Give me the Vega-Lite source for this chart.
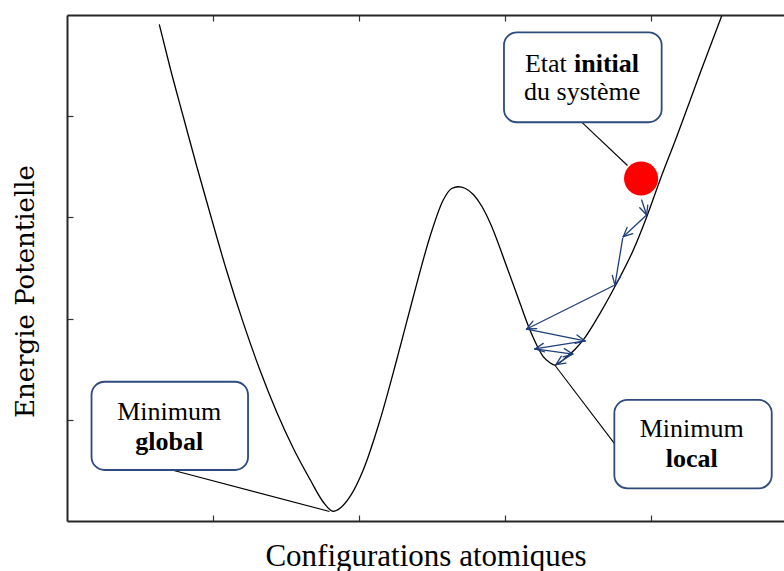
{
  "$schema": "https://vega.github.io/schema/vega-lite/v6.json",
  "width": 717,
  "height": 506,
  "autosize": {"type": "none"},
  "padding": {"left": 67, "top": 15, "right": 0, "bottom": 50},
  "background": "white",
  "config": {"view": {"stroke": null}},
  "resolve": {"axis": {"x": "independent"}},
  "layer": [
    {
      "data": {"values": [
        {"x": 0.632, "y": 4.908}, {"x": 0.705, "y": 4.486}, {"x": 0.797, "y": 3.992}, {"x": 0.888, "y": 3.508},
        {"x": 0.979, "y": 3.043}, {"x": 1.094, "y": 2.470}, {"x": 1.208, "y": 1.955}, {"x": 1.322, "y": 1.489},
        {"x": 1.436, "y": 1.077}, {"x": 1.550, "y": 0.719}, {"x": 1.664, "y": 0.412}, {"x": 1.755, "y": 0.188},
        {"x": 1.824, "y": 0.096}, {"x": 1.870, "y": 0.126}, {"x": 1.938, "y": 0.240}, {"x": 2.029, "y": 0.504},
        {"x": 2.144, "y": 0.998}, {"x": 2.258, "y": 1.591}, {"x": 2.372, "y": 2.216}, {"x": 2.486, "y": 2.809},
        {"x": 2.577, "y": 3.172}, {"x": 2.635, "y": 3.286}, {"x": 2.680, "y": 3.303}, {"x": 2.726, "y": 3.288},
        {"x": 2.783, "y": 3.226}, {"x": 2.840, "y": 3.113}, {"x": 2.897, "y": 2.950}, {"x": 3.012, "y": 2.513},
        {"x": 3.103, "y": 2.151}, {"x": 3.171, "y": 1.887}, {"x": 3.217, "y": 1.739}, {"x": 3.262, "y": 1.624},
        {"x": 3.308, "y": 1.564}, {"x": 3.342, "y": 1.541}, {"x": 3.423, "y": 1.624}, {"x": 3.479, "y": 1.695},
        {"x": 3.536, "y": 1.789}, {"x": 3.651, "y": 2.052}, {"x": 3.765, "y": 2.349}, {"x": 3.879, "y": 2.678},
        {"x": 3.971, "y": 3.007}, {"x": 4.062, "y": 3.370}, {"x": 4.176, "y": 3.797}, {"x": 4.336, "y": 4.424},
        {"x": 4.484, "y": 4.990}
      ]},
      "mark": {"type": "line", "color": "black", "strokeWidth": 1.3, "interpolate": "monotone", "clip": true},
      "encoding": {
        "x": {"field": "x", "type": "quantitative",
          "scale": {"domain": [0, 4.911], "nice": false, "zero": false},
          "axis": {"orient": "bottom", "values": [1, 2, 3, 4], "tickSize": -6, "tickColor": "#333", "tickWidth": 1.2,
            "labels": false, "grid": false, "domainColor": "#262626", "domainWidth": 2,
            "title": "Configurations atomiques", "titleFont": "Liberation Serif", "titleFontSize": 31,
            "titleFontWeight": "normal", "titleColor": "black", "titleBaseline": "alphabetic", "titleY": 44}},
        "y": {"field": "y", "type": "quantitative",
          "scale": {"domain": [0, 5], "nice": false, "zero": false},
          "axis": {"values": [1, 2, 3, 4], "tickSize": -6, "tickColor": "#333", "tickWidth": 1.2,
            "labels": false, "grid": false, "domainColor": "#262626", "domainWidth": 2,
            "title": "Energie Potentielle", "titleFont": "DejaVu Serif", "titleFontSize": 26,
            "titleFontWeight": "normal", "titleColor": "black", "titleBaseline": "alphabetic",
            "titleX": -34, "titleY": 276}}
      }
    },
    {
      "data": {"values": [
        {"x": 3.527, "y": 3.938, "x2": 3.839, "y2": 3.513},
        {"x": 0.719, "y": 0.504, "x2": 1.798, "y2": 0.094},
        {"x": 3.342, "y": 1.539, "x2": 3.749, "y2": 0.767}
      ]},
      "mark": {"type": "rule", "color": "black", "strokeWidth": 1.1},
      "encoding": {
        "x": {"field": "x", "type": "quantitative",
          "axis": {"orient": "top", "values": [1, 2, 3, 4], "tickSize": -6, "tickColor": "#333", "tickWidth": 1.2,
            "labels": false, "grid": false, "domainColor": "#262626", "domainWidth": 2, "title": null}},
        "y": {"field": "y", "type": "quantitative"},
        "x2": {"field": "x2"},
        "y2": {"field": "y2"}
      }
    },
    {
      "data": {"values": [
        {"x": 2.993, "x2": 4.073, "y": 4.829, "y2": 3.940},
        {"x": 0.168, "x2": 1.240, "y": 1.376, "y2": 0.504},
        {"x": 3.749, "x2": 4.827, "y": 1.196, "y2": 0.323}
      ]},
      "mark": {"type": "rect", "fill": "white", "stroke": "#2d4b7e", "strokeWidth": 1.8, "cornerRadius": 13},
      "encoding": {
        "x": {"field": "x", "type": "quantitative", "axis": null},
        "y": {"field": "y", "type": "quantitative"},
        "x2": {"field": "x2"},
        "y2": {"field": "y2"}
      }
    },
    {
      "data": {"values": [
        {"x": 3.936, "y": 3.172, "x2": 3.970, "y2": 3.024},
        {"x": 3.970, "y": 3.024, "x2": 3.978, "y2": 3.122},
        {"x": 3.970, "y": 3.024, "x2": 3.923, "y2": 3.095},
        {"x": 3.970, "y": 3.024, "x2": 3.810, "y2": 2.809},
        {"x": 3.810, "y": 2.809, "x2": 3.875, "y2": 2.840},
        {"x": 3.810, "y": 2.809, "x2": 3.836, "y2": 2.901},
        {"x": 3.806, "y": 2.793, "x2": 3.753, "y2": 2.332},
        {"x": 3.753, "y": 2.332, "x2": 3.792, "y2": 2.414},
        {"x": 3.753, "y": 2.332, "x2": 3.735, "y2": 2.427},
        {"x": 3.753, "y": 2.332, "x2": 3.149, "y2": 1.897},
        {"x": 3.149, "y": 1.897, "x2": 3.217, "y2": 1.900},
        {"x": 3.149, "y": 1.897, "x2": 3.191, "y2": 1.975},
        {"x": 3.149, "y": 1.897, "x2": 3.548, "y2": 1.779},
        {"x": 3.548, "y": 1.779, "x2": 3.493, "y2": 1.838},
        {"x": 3.548, "y": 1.779, "x2": 3.481, "y2": 1.756},
        {"x": 3.548, "y": 1.779, "x2": 3.205, "y2": 1.700},
        {"x": 3.205, "y": 1.700, "x2": 3.271, "y2": 1.672},
        {"x": 3.205, "y": 1.700, "x2": 3.262, "y2": 1.755},
        {"x": 3.205, "y": 1.700, "x2": 3.464, "y2": 1.650},
        {"x": 3.464, "y": 1.650, "x2": 3.406, "y2": 1.703},
        {"x": 3.464, "y": 1.650, "x2": 3.398, "y2": 1.621},
        {"x": 3.464, "y": 1.650, "x2": 3.349, "y2": 1.546},
        {"x": 3.349, "y": 1.546, "x2": 3.417, "y2": 1.559},
        {"x": 3.349, "y": 1.546, "x2": 3.386, "y2": 1.629}
      ]},
      "mark": {"type": "rule", "color": "#1f3f7c", "strokeWidth": 1.3, "strokeCap": "round"},
      "encoding": {
        "x": {"field": "x", "type": "quantitative", "axis": null},
        "y": {"field": "y", "type": "quantitative"},
        "x2": {"field": "x2"},
        "y2": {"field": "y2"}
      }
    },
    {
      "data": {"values": [{"x": 3.932, "y": 3.384}]},
      "mark": {"type": "point", "shape": "circle", "filled": true, "color": "#ff0000", "opacity": 1, "size": 1164, "strokeWidth": 0},
      "encoding": {
        "x": {"field": "x", "type": "quantitative", "axis": null},
        "y": {"field": "y", "type": "quantitative"}
      }
    },
    {
      "data": {"values": [
        {"x": 3.529, "y": 4.160, "text": "du système"},
        {"x": 0.700, "y": 0.998, "text": "Minimum"},
        {"x": 4.279, "y": 0.827, "text": "Minimum"}
      ]},
      "mark": {"type": "text", "font": "Liberation Serif", "fontSize": 26, "color": "black", "align": "center", "baseline": "alphabetic"},
      "encoding": {
        "x": {"field": "x", "type": "quantitative", "axis": null},
        "y": {"field": "y", "type": "quantitative"},
        "text": {"field": "text"}
      }
    },
    {
      "data": {"values": [
        {"x": 0.700, "y": 0.702, "text": "global"},
        {"x": 4.279, "y": 0.531, "text": "local"}
      ]},
      "mark": {"type": "text", "font": "Liberation Serif", "fontSize": 26, "fontWeight": "bold", "color": "black", "align": "center", "baseline": "alphabetic"},
      "encoding": {
        "x": {"field": "x", "type": "quantitative", "axis": null},
        "y": {"field": "y", "type": "quantitative"},
        "text": {"field": "text"}
      }
    },
    {
      "data": {"values": [{"x": 3.423, "y": 4.440, "text": "Etat"}]},
      "mark": {"type": "text", "font": "Liberation Serif", "fontSize": 26, "color": "black", "align": "right", "baseline": "alphabetic"},
      "encoding": {
        "x": {"field": "x", "type": "quantitative", "axis": null},
        "y": {"field": "y", "type": "quantitative"},
        "text": {"field": "text"}
      }
    },
    {
      "data": {"values": [{"x": 3.473, "y": 4.440, "text": "initial"}]},
      "mark": {"type": "text", "font": "Liberation Serif", "fontSize": 26, "fontWeight": "bold", "color": "black", "align": "left", "baseline": "alphabetic"},
      "encoding": {
        "x": {"field": "x", "type": "quantitative", "axis": null},
        "y": {"field": "y", "type": "quantitative"},
        "text": {"field": "text"}
      }
    }
  ]
}
